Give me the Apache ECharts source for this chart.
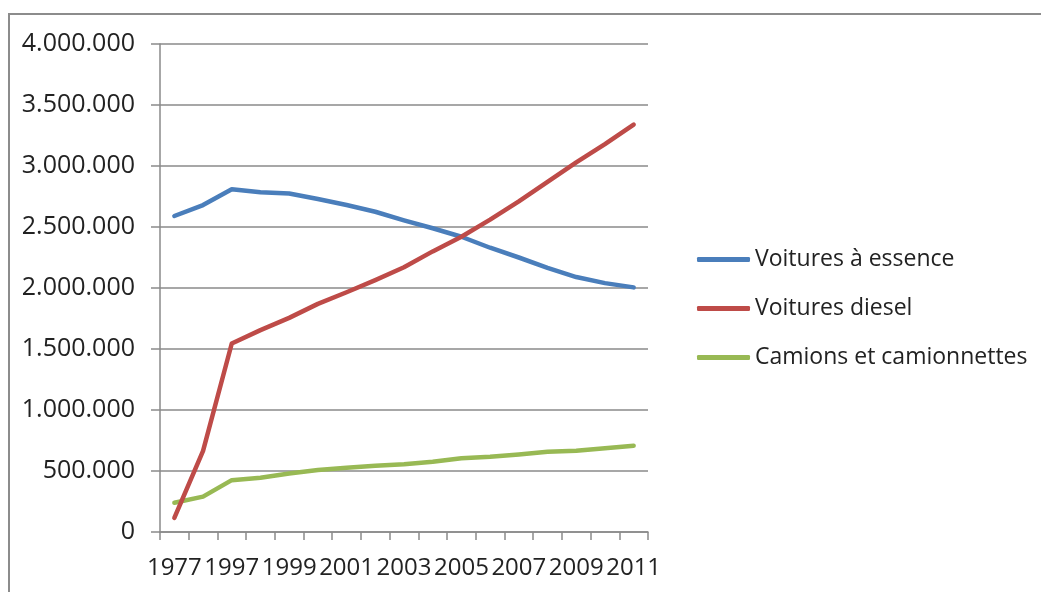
<!DOCTYPE html>
<html>
<head>
<meta charset="utf-8">
<script src="https://cdn.jsdelivr.net/npm/echarts@6/dist/echarts.min.js"></script>
<style>
  html, body { margin: 0; padding: 0; background: #fff; }
  #frame { position: absolute; left: 8px; top: 13px; width: 1040px; height: 600px;
           border-top: 2px solid #8c8c8c; border-left: 2px solid #8c8c8c; }
  #chart { position: absolute; left: 0; top: 0; width: 1041px; height: 592px; }
</style>
</head>
<body>
<div id="frame"></div>
<div id="chart"></div>
<script>
// années (la 2e catégorie n'a pas d'étiquette visible)
const years = ['1977', '1987', '1997', '1998', '1999', '2000', '2001', '2002', '2003',
  '2004', '2005', '2006', '2007', '2008', '2009', '2010', '2011'];
const essence = [2590000, 2680000, 2810000, 2785000, 2775000, 2730000, 2680000, 2625000, 2555000,
  2490000, 2420000, 2330000, 2250000, 2165000, 2090000, 2040000, 2005000];
const diesel = [115000, 665000, 1545000, 1655000, 1755000, 1870000, 1965000, 2065000, 2170000,
  2300000, 2420000, 2560000, 2710000, 2870000, 3030000, 3180000, 3340000];
const camions = [240000, 290000, 425000, 445000, 480000, 508000, 527000, 543000, 555000,
  576000, 604000, 617000, 636000, 658000, 666000, 686000, 707000];
const seriesNames = ['Voitures à essence', 'Voitures diesel', 'Camions et camionnettes'];

const axisGray = '#8a8a8a';
const font = '"Open Sans", "DejaVu Sans", sans-serif';

const myChart = echarts.init(document.getElementById('chart'));

// 4000000 -> "4.000.000"
const fmt = v => String(v).replace(/\B(?=(\d{3})+(?!\d))/g, '.');

const option = {
  animation: false,
  backgroundColor: 'transparent',
  grid: { left: 160, right: 393, top: 44, bottom: 60 },
  legend: {
    orient: 'vertical',
    left: 692,
    top: 241,
    itemWidth: 53,
    itemHeight: 5,
    itemGap: 22,
    icon: 'roundRect',
    textStyle: { fontFamily: font, fontSize: 23, color: '#222', lineHeight: 27 },
    data: seriesNames
  },
  xAxis: {
    type: 'category',
    data: years,
    boundaryGap: true,
    axisLine: { lineStyle: { color: axisGray, width: 1.5 } },
    axisTick: { show: true, length: 8, interval: 0, lineStyle: { color: axisGray, width: 1.5 } },
    axisLabel: { interval: 1, margin: 24, fontFamily: font, fontSize: 24, color: '#222' }
  },
  yAxis: {
    type: 'value',
    min: 0,
    max: 4000000,
    interval: 500000,
    axisLine: { show: true, lineStyle: { color: axisGray, width: 1.5 } },
    axisTick: { show: true, length: 9, lineStyle: { color: axisGray, width: 1.5 } },
    axisLabel: { margin: 25, fontFamily: font, fontSize: 25, color: '#222', formatter: fmt },
    splitLine: { lineStyle: { color: axisGray, width: 1.5 } }
  },
  series: [
    {
      name: seriesNames[0], type: 'line', data: essence, symbol: 'none', z: 2,
      color: '#4a7ebb', lineStyle: { width: 4.5, cap: 'round', join: 'round' }
    },
    {
      name: seriesNames[1], type: 'line', data: diesel, symbol: 'none', z: 4,
      color: '#be4b48', lineStyle: { width: 4.5, cap: 'round', join: 'round' }
    },
    {
      name: seriesNames[2], type: 'line', data: camions, symbol: 'none', z: 3,
      color: '#98b954', lineStyle: { width: 4.5, cap: 'round', join: 'round' }
    }
  ]
};
myChart.setOption(option);
</script>
</body>
</html>
